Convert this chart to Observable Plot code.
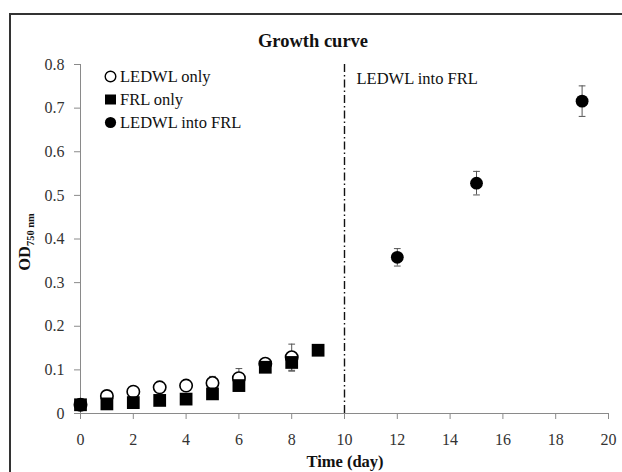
<!DOCTYPE html>
<html>
<head>
<meta charset="utf-8">
<script src="https://cdn.jsdelivr.net/npm/d3@7"></script>
<script src="https://cdn.jsdelivr.net/npm/@observablehq/plot@0.6"></script>
<style>
  html, body { margin: 0; padding: 0; background: #fff; overflow: hidden; }
  #wrap { position: relative; width: 622px; height: 472px; font-family: "Liberation Serif", serif; }
  #frame { position: absolute; left: 9px; top: 13px; width: 800px; height: 600px; border-left: 2px solid #333; border-top: 2px solid #333; pointer-events: none; }
  #legend { position: absolute; left: 104px; top: 65px; font-size: 16.5px; color: #111; line-height: 23px; }
  #legend .row { display: flex; align-items: center; height: 23px; }
  #legend svg { margin-right: 3px; }
</style>
</head>
<body>
<div id="wrap">
  <div id="chart"></div>
  <div id="frame"></div>
  <div id="legend"></div>
</div>
<script>
// ---- data ----
const seriesNames = ["LEDWL only", "FRL only", "LEDWL into FRL"];
const ledwlDays = [0, 1, 2, 3, 4, 5, 6, 7, 8];
const ledwlOD   = [0.020, 0.040, 0.050, 0.060, 0.064, 0.070, 0.081, 0.114, 0.129];
const ledwlErr  = [0.002, 0.003, 0.003, 0.003, 0.003, 0.015, 0.022, 0.005, 0.030];
const frlDays = [0, 1, 2, 3, 4, 5, 6, 7, 8, 9];
const frlOD   = [0.020, 0.022, 0.025, 0.030, 0.033, 0.045, 0.064, 0.106, 0.117, 0.145];
const frlErr  = [0.002, 0.002, 0.002, 0.002, 0.002, 0.003, 0.004, 0.005, 0.020, 0.004];
const intoDays = [12, 15, 19];
const intoOD   = [0.358, 0.528, 0.716];
const intoErr  = [0.020, 0.027, 0.035];
const switchDay = [10];
const switchLabel = ["LEDWL into FRL"];
const xTicks = [0, 2, 4, 6, 8, 10, 12, 14, 16, 18, 20];
const xTickLabels = ["0", "2", "4", "6", "8", "10", "12", "14", "16", "18", "20"];
const yTicks = [0, 0.1, 0.2, 0.3, 0.4, 0.5, 0.6, 0.7, 0.8];
const yTickLabels = ["0", "0.1", "0.2", "0.3", "0.4", "0.5", "0.6", "0.7", "0.8"];
const titleText = "Growth curve";
const xLabelText = "Time (day)";
const yLabelMain = "OD";
const yLabelSub = "750 nm";

// ---- tables ----
const ledwl = ledwlDays.map((d, i) => ({x: d, y: ledwlOD[i], lo: ledwlOD[i] - ledwlErr[i], hi: ledwlOD[i] + ledwlErr[i]}));
const frl = frlDays.map((d, i) => ({x: d, y: frlOD[i], lo: frlOD[i] - frlErr[i], hi: frlOD[i] + frlErr[i]}));
const into = intoDays.map((d, i) => ({x: d, y: intoOD[i], lo: intoOD[i] - intoErr[i], hi: intoOD[i] + intoErr[i]}));
const allErr = [...ledwl, ...frl, ...into];

const cap = { draw(ctx, size) { const w = Math.sqrt(size); ctx.moveTo(-w / 2, 0); ctx.lineTo(w / 2, 0); } };
const gray = "#8a8a8a";

const plot = Plot.plot({
  width: 622,
  height: 472,
  marginLeft: 80,
  marginRight: 14,
  marginTop: 64,
  marginBottom: 59,
  style: { fontFamily: "Liberation Serif, serif", fontSize: "16px", background: "transparent", color: "#222" },
  x: { domain: [0, 20] },
  y: { domain: [0, 0.8] },
  marks: [
    Plot.axisX({ticks: xTicks, tickFormat: d => xTickLabels[xTicks.indexOf(d)], tickSize: 6, tickPadding: 14, stroke: gray, fill: "#333", label: null, fontSize: 16}),
    Plot.axisY({ticks: yTicks, tickFormat: d => yTickLabels[yTicks.indexOf(d)], tickSize: 6, tickPadding: 10, stroke: gray, fill: "#333", label: null, fontSize: 16}),
    Plot.ruleX([0], {stroke: gray, strokeWidth: 1}),
    Plot.ruleY([0], {stroke: gray, strokeWidth: 1}),
    Plot.ruleX(switchDay, {x: d => d, y1: 0, y2: 0.8, stroke: "#111", strokeWidth: 1.4, strokeDasharray: "8,3,1.5,3"}),
    Plot.text(switchLabel, {x: switchDay, frameAnchor: "top", textAnchor: "start", lineAnchor: "top", dx: 12, dy: 8, fontSize: 16.5, fill: "#111"}),
    // error bars
    Plot.ruleX(allErr, {x: "x", y1: "lo", y2: "hi", stroke: "#555", strokeWidth: 1}),
    Plot.dot(allErr, {x: "x", y: "lo", symbol: cap, r: 3.8, stroke: "#555", strokeWidth: 1}),
    Plot.dot(allErr, {x: "x", y: "hi", symbol: cap, r: 3.8, stroke: "#555", strokeWidth: 1}),
    // series
    Plot.dot(ledwl, {x: "x", y: "y", r: 6.2, symbol: "circle", fill: "white", stroke: "#000", strokeWidth: 1.6}),
    Plot.dot(frl, {x: "x", y: "y", r: 7.2, symbol: "square", fill: "#000", stroke: "none"}),
    Plot.dot(into, {x: "x", y: "y", r: 6.4, symbol: "circle", fill: "#000", stroke: "none"})
  ]
});

const svg = d3.select(plot);
svg.append("text")
  .attr("x", 313).attr("y", 47)
  .attr("text-anchor", "middle")
  .attr("font-weight", "bold").attr("font-size", 18.5).attr("fill", "#111")
  .text(titleText);
svg.append("text")
  .attr("x", 345).attr("y", 467)
  .attr("text-anchor", "middle")
  .attr("font-weight", "bold").attr("font-size", 16.5).attr("fill", "#111")
  .text(xLabelText);
const yl = svg.append("text")
  .attr("transform", "translate(30,242) rotate(-90)")
  .attr("text-anchor", "middle")
  .attr("font-weight", "bold").attr("font-size", 16.5).attr("fill", "#111");
yl.append("tspan").text(yLabelMain);
yl.append("tspan").attr("font-size", 10.5).attr("dy", 4).text(yLabelSub);

document.getElementById("chart").appendChild(plot);

// legend
const legendSymbols = [
  '<svg width="13" height="13"><circle cx="6.5" cy="6.5" r="5.3" fill="white" stroke="#000" stroke-width="1.4"/></svg>',
  '<svg width="13" height="13"><rect x="1" y="1.5" width="11" height="10" fill="#000"/></svg>',
  '<svg width="13" height="13"><circle cx="6.5" cy="6.5" r="5.6" fill="#000"/></svg>'
];
const legend = document.getElementById("legend");
seriesNames.forEach((name, i) => {
  const row = document.createElement("div");
  row.className = "row";
  row.innerHTML = legendSymbols[i] + "<span>" + name + "</span>";
  legend.appendChild(row);
});
</script>
</body>
</html>
